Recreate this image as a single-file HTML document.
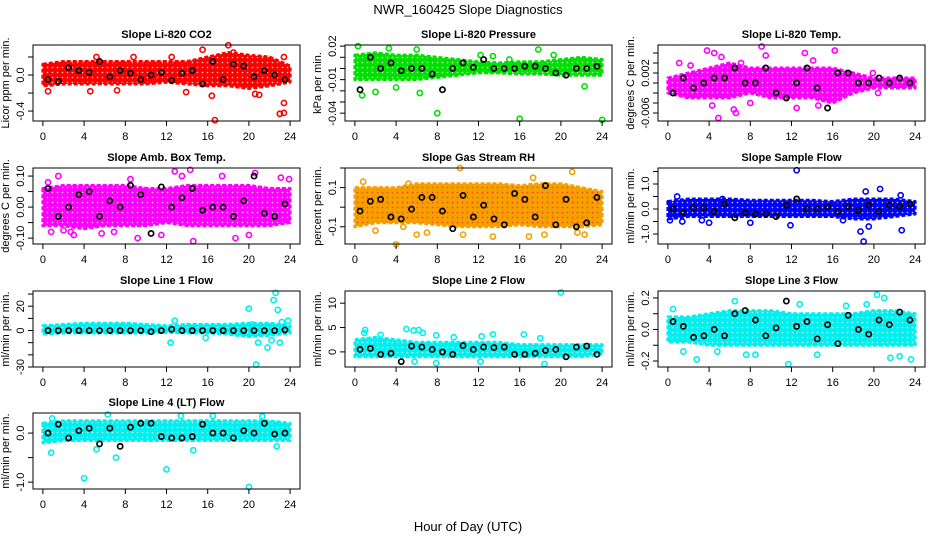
<!DOCTYPE html>
<html><head><meta charset="utf-8"><style>
html,body{margin:0;padding:0;background:#fff;}
svg text{font-family:"Liberation Sans",Arial,sans-serif;}
</style></head><body>
<svg id="fig" width="936" height="540" viewBox="0 0 936 540" xmlns="http://www.w3.org/2000/svg">
<text x="468" y="14" text-anchor="middle" font-size="13">NWR_160425  Slope Diagnostics</text>
<text x="468" y="531" text-anchor="middle" font-size="13">Hour of Day (UTC)</text>
</svg>
<script>
// ---- data arrays (per panel) ----
const bandHours = [0,2,4,6,8,10,12,14,16,18,20,22,24];
const blackHours = [0.5,1.5,2.5,3.5,4.5,5.5,6.5,7.5,8.5,9.5,10.5,11.5,12.5,13.5,14.5,15.5,16.5,17.5,18.5,19.5,20.5,21.5,22.5,23.5];
const xTicks = [0,4,8,12,16,20,24];

const co2Lo = [-0.12,-0.1,-0.1,-0.1,-0.1,-0.1,-0.08,-0.1,-0.12,-0.12,-0.15,-0.12,-0.08];
const co2Hi = [0.12,0.15,0.15,0.15,0.15,0.15,0.15,0.15,0.2,0.25,0.22,0.2,0.1];
const co2Black = [-0.05,-0.07,0.08,0.05,0.03,0.15,-0.02,0.05,0.02,-0.05,0.0,0.03,-0.06,0.02,0.05,-0.1,0.15,-0.05,0.12,0.1,-0.02,0.05,0.0,-0.05];
const co2Out = [[0.5,-0.18],[4.6,-0.18],[5.2,0.2],[7.2,-0.17],[8.8,0.2],[13.9,-0.19],[15.5,0.28],[16.4,-0.23],[16.7,-0.5],[18,0.33],[20.6,-0.21],[21,-0.22],[23,-0.43],[23.4,-0.42],[23.4,-0.31],[23.4,0.2],[18.5,0.25],[12.5,0.2]];

const presLo = [-0.01,-0.01,-0.01,-0.01,-0.008,-0.006,-0.004,-0.004,-0.005,-0.005,-0.006,-0.006,-0.006];
const presHi = [0.012,0.014,0.012,0.012,0.01,0.008,0.006,0.005,0.006,0.006,0.008,0.01,0.008];
const presBlack = [-0.019,0.01,0.0,0.005,-0.002,0.0,0.0,-0.005,-0.019,0.0,0.005,0.001,0.008,0.0,0.0,0.0,0.002,0.002,0.0,-0.004,-0.006,0.0,0.0,0.002];
const presOut = [[0.3,0.02],[0.7,-0.024],[2,-0.021],[3.3,0.018],[4,-0.017],[6,0.017],[6.3,-0.022],[8,-0.04],[12.2,0.012],[13.4,0.011],[16,-0.045],[17.8,0.017],[19.3,0.012],[22.3,-0.016],[24,-0.046],[15,0.008]];

const tempLo = [-0.002,-0.003,-0.003,-0.003,-0.002,-0.003,-0.003,-0.003,-0.004,-0.002,-0.001,-0.001,-0.001];
const tempHi = [0.001,0.002,0.003,0.004,0.003,0.003,0.003,0.003,0.003,0.002,0.001,0.001,0.001];
const tempBlack = [-0.002,0.001,-0.001,0.0,0.001,0.001,0.003,0.0,0.0,0.003,-0.002,-0.003,0.0,0.003,-0.001,-0.005,0.002,0.002,0.0,0.0,0.001,0.0,0.001,0.0];
const tempOut = [[1.1,0.004],[2.2,0.0035],[3.8,0.0065],[4.5,0.006],[4.9,-0.007],[5.2,0.0052],[6.6,-0.006],[6.4,-0.0053],[7.1,0.004],[9.1,0.0073],[9.5,0.0055],[13.3,0.006],[14.1,0.0045],[14.6,-0.0045],[16.2,0.0065],[19.9,0.002],[20.4,-0.002],[4.3,-0.0045],[12.5,-0.005],[8,-0.004]];

const ambLo = [-0.06,-0.06,-0.07,-0.06,-0.06,-0.06,-0.05,-0.06,-0.06,-0.06,-0.06,-0.06,-0.05];
const ambHi = [0.06,0.07,0.07,0.07,0.07,0.06,0.06,0.07,0.07,0.07,0.07,0.06,0.06];
const ambBlack = [0.06,-0.03,0.0,0.04,0.05,-0.03,0.02,0.0,0.07,0.04,-0.085,0.065,0.0,0.03,0.06,-0.01,0.0,0.0,-0.03,0.02,0.1,-0.02,-0.03,0.01];
const ambOut = [[0.5,0.08],[0.8,-0.08],[1.5,0.1],[2,-0.075],[2.7,-0.08],[3,-0.09],[5.7,-0.085],[6.9,-0.08],[8.5,0.09],[9.2,-0.1],[10,0.055],[11.5,-0.09],[13.5,0.1],[14.3,0.12],[14.6,-0.11],[17.4,0.1],[18.7,-0.1],[20,-0.09],[20.6,0.11],[23.1,0.095],[23.9,0.09],[12.8,0.115]];

const rhLo = [-0.1,-0.08,-0.08,-0.08,-0.09,-0.1,-0.1,-0.1,-0.09,-0.1,-0.1,-0.1,-0.09];
const rhHi = [0.1,0.1,0.1,0.12,0.12,0.12,0.12,0.12,0.11,0.12,0.12,0.1,0.08];
const rhBlack = [-0.02,0.03,0.04,-0.05,-0.06,-0.01,0.05,0.05,-0.02,-0.11,0.06,-0.05,0.01,-0.06,-0.09,0.07,0.04,-0.05,0.11,-0.09,0.04,-0.1,-0.08,0.05];
const rhOut = [[0.8,0.13],[2,-0.12],[4,-0.19],[4.7,-0.1],[6,-0.14],[7,-0.13],[10.2,0.2],[10.5,-0.14],[13.4,-0.15],[16.9,-0.15],[17.3,0.15],[18.4,-0.14],[21.1,0.18],[21.6,-0.13],[22.3,-0.14],[5.2,0.12]];

const sfLo = [-0.4,-0.3,-0.3,-0.3,-0.3,-0.3,-0.3,-0.3,-0.3,-0.4,-0.4,-0.3,-0.2];
const sfHi = [0.3,0.4,0.4,0.4,0.35,0.35,0.35,0.35,0.3,0.4,0.4,0.4,0.3];
const sfBlack = [0.0,-0.15,0.05,0.05,-0.1,0.2,-0.35,-0.15,-0.2,-0.2,-0.3,0.15,0.4,0.0,0.0,0.1,-0.1,0.1,-0.05,0.15,-0.1,0.15,0.1,0.2];
const sfOut = [[0.2,-0.45],[0.9,0.5],[1.4,-0.5],[3.3,-0.45],[4,-0.55],[5.3,0.4],[11.9,-0.65],[12.5,1.55],[17,-0.45],[18.7,-0.9],[19,-1.3],[19.2,0.7],[19.5,-0.7],[20.6,0.8],[22.7,-0.85],[22.6,0.55],[8,-0.55]];

const l1Lo = [-3,-2,-2,-2,-2,-2,-1.5,-2,-2,-3,-5,-4,-2];
const l1Hi = [4,5,6,6,6,5,4,5,5,5,6,6,4];
const l1Black = [0,0,0,0,0,0,0,0,0,0,-1,0,1,0,0,0,0,0,0,0,0,0,0,0.5];
const l1Out = [[12.4,-10],[12.8,8],[15.8,-6],[20,18],[20.3,5],[20.7,-28],[20.9,-10],[21.8,-14],[22.2,-8],[22.4,25],[22.6,31],[22.8,17],[23,-10],[23.2,7],[23.8,8]];

const l2Lo = [-1,-1,-1,-1,-1,-1,-1,-1,-1,-1,-1,-1,-0.5];
const l2Hi = [2.5,3,2.5,2,2,2,2,2,1.5,1.5,1.5,1.5,1.5];
const l2Black = [0.5,0.7,-0.5,-0.3,-2,1.2,1.0,0.5,0.0,-0.5,1.3,0.5,1.0,0.9,1.0,-0.5,-0.5,-0.3,0.3,0.5,-1.0,1.0,1.2,-0.5];
const l2Out = [[1,4.5],[0.9,3.9],[2.5,3.5],[5,4.7],[5.7,4.4],[6.2,4.5],[6.6,3.9],[7.9,3.4],[9.6,3],[12.3,3.2],[13.4,3.6],[16.4,3.6],[18,2.8],[18.4,-2.5],[20,12.2],[5.8,-2],[7.9,-2.3],[12.2,-2]];

const l3Lo = [-0.08,-0.08,-0.1,-0.1,-0.1,-0.1,-0.1,-0.1,-0.1,-0.1,-0.1,-0.1,-0.1];
const l3Hi = [0.08,0.08,0.1,0.12,0.12,0.12,0.1,0.1,0.1,0.1,0.12,0.12,0.1];
const l3Black = [0.05,0.02,-0.05,-0.04,0.0,-0.04,0.1,0.12,0.06,-0.04,0.01,0.18,0.02,0.05,-0.06,0.03,-0.09,0.09,0.0,-0.03,0.06,0.03,0.11,0.06];
const l3Out = [[0.5,0.13],[1.5,-0.14],[2.8,-0.19],[4.8,-0.14],[6.5,0.18],[7.6,-0.16],[8.5,-0.16],[11.7,-0.22],[12.8,0.16],[14.5,-0.16],[17.3,0.15],[19.3,0.16],[20.3,0.22],[21.6,-0.18],[22.5,-0.17],[23.6,-0.19],[21,0.2]];

const l4Lo = [-0.2,-0.15,-0.15,-0.15,-0.15,-0.15,-0.15,-0.15,-0.15,-0.15,-0.15,-0.15,-0.15];
const l4Hi = [0.2,0.25,0.25,0.25,0.25,0.25,0.25,0.25,0.25,0.25,0.25,0.25,0.2];
const l4Black = [0.0,0.18,-0.1,0.05,0.1,-0.22,0.1,-0.27,0.12,0.2,0.2,-0.07,-0.1,-0.1,-0.07,0.18,0.0,0.0,-0.1,0.05,0.0,0.2,-0.02,0.0];
const l4Out = [[0.8,-0.4],[4,-0.92],[5.2,-0.33],[6.3,0.38],[7.1,-0.5],[12,-0.74],[13.4,0.35],[14.6,-0.35],[16.5,0.35],[20,-1.1],[21.3,0.34],[22.7,-0.27],[0.9,0.3]];

const panels = [
 {id:'co2',title:'Slope Li-820 CO2',ylab:'Licor ppm per min.',col:0,row:0,color:'#ff0000',ylim:[-0.51,0.333],ticks:[-0.4,-0.2,0,0.2],labels:[[-0.4,'-0.4'],[0,'0.0']],lo:co2Lo,hi:co2Hi,black:co2Black,out:co2Out},
 {id:'pressure',title:'Slope Li-820 Pressure',ylab:'kPa per min.',col:1,row:0,color:'#00e000',ylim:[-0.047,0.021],ticks:[0.02,0.01,0,-0.01,-0.02,-0.03,-0.04],labels:[[0.02,'0.02'],[-0.01,'-0.01'],[-0.04,'-0.04']],lo:presLo,hi:presHi,black:presBlack,out:presOut},
 {id:'temp',title:'Slope Li-820 Temp.',ylab:'degrees C per min.',col:2,row:0,color:'#ff00ff',ylim:[-0.0076,0.0076],ticks:[-0.006,-0.004,-0.002,0,0.002,0.004,0.006],labels:[[0.002,'0.002'],[-0.006,'-0.006']],lo:tempLo,hi:tempHi,black:tempBlack,out:tempOut},
 {id:'amb-box-temp',title:'Slope Amb. Box Temp.',ylab:'degrees C per min.',col:0,row:1,color:'#ff00ff',ylim:[-0.119,0.126],ticks:[-0.1,-0.05,0,0.05,0.1],labels:[[-0.1,'-0.10'],[0,'0.00'],[0.1,'0.10']],lo:ambLo,hi:ambHi,black:ambBlack,out:ambOut},
 {id:'gas-stream-rh',title:'Slope Gas Stream RH',ylab:'percent per min.',col:1,row:1,color:'#f5a000',ylim:[-0.188,0.2],ticks:[-0.1,0,0.1,0.2],labels:[[0.1,'0.1'],[-0.1,'-0.1']],lo:rhLo,hi:rhHi,black:rhBlack,out:rhOut},
 {id:'sample-flow',title:'Slope Sample Flow',ylab:'ml/min per min.',col:2,row:1,color:'#0000ff',ylim:[-1.4,1.64],ticks:[-1,-0.5,0,0.5,1,1.5],labels:[[1,'1.0'],[0,'0.0'],[-1,'-1.0']],lo:sfLo,hi:sfHi,black:sfBlack,out:sfOut},
 {id:'line1-flow',title:'Slope Line 1 Flow',ylab:'ml/min per min.',col:0,row:2,color:'#00f0f0',ylim:[-30,32.5],ticks:[-30,-20,-10,0,10,20,30],labels:[[20,'20'],[0,'0'],[-30,'-30']],lo:l1Lo,hi:l1Hi,black:l1Black,out:l1Out},
 {id:'line2-flow',title:'Slope Line 2 Flow',ylab:'ml/min per min.',col:1,row:2,color:'#00f0f0',ylim:[-3.1,12.5],ticks:[0,5,10],labels:[[10,'10'],[5,'5'],[0,'0']],lo:l2Lo,hi:l2Hi,black:l2Black,out:l2Out},
 {id:'line3-flow',title:'Slope Line 3 Flow',ylab:'ml/min per min.',col:2,row:2,color:'#00f0f0',ylim:[-0.238,0.244],ticks:[-0.2,-0.1,0,0.1,0.2],labels:[[0.2,'0.2'],[0,'0.0'],[-0.2,'-0.2']],lo:l3Lo,hi:l3Hi,black:l3Black,out:l3Out},
 {id:'line4-flow',title:'Slope Line 4 (LT) Flow',ylab:'ml/min per min.',col:0,row:3,color:'#00f0f0',ylim:[-1.14,0.41],ticks:[-1,-0.5,0],labels:[[0,'0.0'],[-1,'-1.0']],lo:l4Lo,hi:l4Hi,black:l4Black,out:l4Out}
];

const NS='http://www.w3.org/2000/svg';
const svg=document.getElementById('fig');
const colLeft=[33,345,658], rowTop=[45,168,291,413], PW=267, PH=76;
function mk(tag,attrs,parent){const e=document.createElementNS(NS,tag);for(const k in attrs)e.setAttribute(k,attrs[k]);parent.appendChild(e);return e;}
const defs=mk('defs',{},svg);

panels.forEach(p=>{
  const L=colLeft[p.col], T=rowTop[p.row];
  const g=mk('g',{},svg);
  
  
  const xs=h=>L+PW*(h+0.96)/25.92;
  const ys=v=>T+PH*(p.ylim[1]-v)/(p.ylim[1]-p.ylim[0]);
  const clip='clip-'+p.id;
  const cp=mk('clipPath',{id:clip},defs); mk('rect',{x:L,y:T,width:PW,height:PH},cp);
  const pat=mk('pattern',{id:'pat-'+p.id,patternUnits:'userSpaceOnUse',width:5,height:5},defs);
  mk('rect',{x:0,y:0,width:5,height:5,fill:p.color},pat);
  mk('circle',{cx:2.5,cy:2.5,r:0.8,fill:p.id==='gas-stream-rh'?'#ff2000':'#ffffff',opacity:0.8},pat);
  let d='';
  bandHours.forEach((h,i)=>{d+=(i?'L':'M')+xs(h).toFixed(1)+','+ys(p.hi[i]).toFixed(1);});
  for(let i=bandHours.length-1;i>=0;i--) d+='L'+xs(bandHours[i]).toFixed(1)+','+ys(p.lo[i]).toFixed(1);
  const band=mk('path',{d:d+'Z',fill:'url(#pat-'+p.id+')',stroke:p.color,'stroke-width':3,'stroke-dasharray':'4 2','stroke-linejoin':'round','clip-path':'url(#'+clip+')'},g);
  
  
  p.out.forEach(o=>{
    const c=mk('circle',{cx:xs(o[0]),cy:ys(o[1]),r:2.6,fill:'none',stroke:p.color,'stroke-width':1.6},g);
    
    
  });
  p.black.forEach((v,i)=>{
    const c=mk('circle',{cx:xs(blackHours[i]),cy:ys(v),r:2.6,fill:'none',stroke:'#000','stroke-width':1.7},g);
    
    
  });
  const box=mk('rect',{x:L,y:T,width:PW,height:PH,fill:'none',stroke:'#000','stroke-width':1},g);
  
  
  const t=mk('text',{x:L+PW/2,y:T-7,'text-anchor':'middle','font-size':11,'font-weight':'bold'},g);
  t.textContent=p.title;
  
  
  const xa=mk('g',{},g);
  
  
  mk('line',{x1:xs(0),x2:xs(24),y1:T+PH,y2:T+PH,stroke:'#000'},xa);
  xTicks.forEach(h=>{
    mk('line',{x1:xs(h),x2:xs(h),y1:T+PH,y2:T+PH+5,stroke:'#000'},xa);
    const tl=mk('text',{x:xs(h),y:T+PH+19,'text-anchor':'middle','font-size':11},xa);
    tl.textContent=h;
    
    
  });
  const ya=mk('g',{},g);
  
  
  const tv=p.ticks;
  mk('line',{x1:L,x2:L,y1:ys(Math.min(...tv)),y2:ys(Math.max(...tv)),stroke:'#000'},ya);
  tv.forEach(v=>mk('line',{x1:L-5,x2:L,y1:ys(v),y2:ys(v),stroke:'#000'},ya));
  p.labels.forEach(lb=>{
    const yy=ys(lb[0]);
    const tl=mk('text',{x:L-9,y:yy,'text-anchor':'middle','font-size':11,transform:'rotate(-90 '+(L-9)+' '+yy+')'},ya);
    tl.textContent=lb[1];
    
    
  });
  const yt=mk('text',{x:L-24,y:T+PH/2,'text-anchor':'middle','font-size':11,transform:'rotate(-90 '+(L-24)+' '+(T+PH/2)+')'},g);
  yt.textContent=p.ylab;
  
  
});
</script>
</body></html>
